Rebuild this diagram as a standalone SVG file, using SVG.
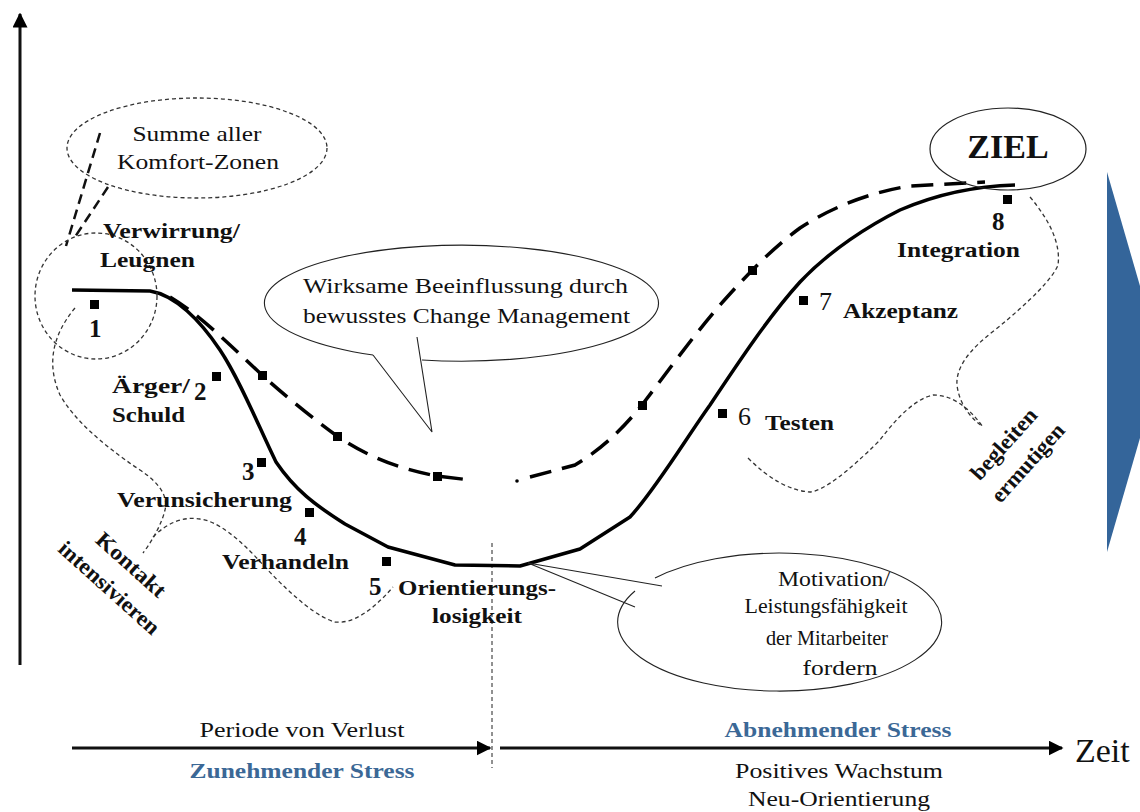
<svg xmlns="http://www.w3.org/2000/svg" width="1140" height="812" viewBox="0 0 1140 812">
<defs>
<style>
text{font-family:"Liberation Serif","Times New Roman",serif;fill:#111}
.b{font-weight:bold;font-size:22px}
.r{font-size:22px}
.n{font-weight:bold;font-size:25px}
.blue{fill:#3b6896;font-weight:bold;font-size:21px}
.c{text-anchor:middle}
.solid{fill:none;stroke:#000;stroke-width:3.5;stroke-linejoin:round}
.dash{fill:none;stroke:#000;stroke-width:3.5;stroke-dasharray:22 11}
.dot{fill:none;stroke:#333;stroke-width:1.3;stroke-dasharray:4 3}
.thin{fill:none;stroke:#222;stroke-width:1.1}
.sq{fill:#000}
</style>
<marker id="ah" viewBox="0 0 10 10" refX="9" refY="5" markerWidth="5" markerHeight="5" orient="auto" markerUnits="strokeWidth">
<path d="M0,0 L10,5 L0,10 z" fill="#000"/>
</marker>
</defs>
<rect width="1140" height="812" fill="#fff"/>

<g id="axes">
<line x1="20" y1="665" x2="20" y2="14" stroke="#111" stroke-width="3" marker-end="url(#ah)"/>
<line x1="72" y1="748" x2="490" y2="748" stroke="#111" stroke-width="3" marker-end="url(#ah)"/>
<line x1="500" y1="748" x2="1062" y2="748" stroke="#111" stroke-width="3" marker-end="url(#ah)"/>
<line x1="492" y1="543" x2="492" y2="768" stroke="#222" stroke-width="1" stroke-dasharray="4 3"/>
<polygon id="bigarrow" points="1107,172 1162,362 1107,552" fill="#34659a"/>
</g>

<g id="connectors">
<path class="solid" d="M72,290 L150,291 C175,295 200,320 220,350 C240,380 258,425 276,462 C295,490 315,505 345,524 L388,547 L455,565 L520,566 L580,549 L630,517 C655,490 685,440 710,405 C740,360 770,315 800,282 C830,250 870,225 900,210 C935,195 975,186 1015,185"/>
<path class="dash" d="M170,297 C200,315 230,345 262,375 C290,400 315,420 337,436 C365,455 395,468 437,476 L470,480"/>
<circle cx="517" cy="481" r="1.8" fill="#000"/>
<path class="dash" d="M530,477 L575,465 C600,450 620,432 642,405 C665,375 690,340 720,305 C745,277 770,250 800,228 C830,208 870,192 910,186 L985,182"/>
<path class="dot" d="M75,308 Q40,350 60,395 Q80,430 140,470 Q170,490 165,510 Q160,530 143,553"/>
<path class="dot" d="M153,537 Q175,515 200,519 Q225,522 265,567 Q310,615 335,622 Q360,625 393,587"/>
<path class="dot" d="M748,458 Q780,490 810,492 Q830,490 880,440 Q910,400 933,395 Q960,395 983,427"/>
<path class="dot" d="M1030,197 Q1062,235 1058,265 Q1050,285 995,330 Q955,360 957,385 Q960,410 983,427"/>
<line x1="100" y1="133" x2="66" y2="246" stroke="#111" stroke-width="2.5" stroke-dasharray="10 6"/>
<line x1="108" y1="187" x2="73" y2="240" stroke="#111" stroke-width="2.5" stroke-dasharray="10 6"/>
</g>

<g id="markers">
<rect class="sq" x="258" y="371" width="9" height="9"/>
<rect class="sq" x="333" y="432" width="9" height="9"/>
<rect class="sq" x="433" y="472" width="9" height="9"/>
<rect class="sq" x="638" y="401" width="9" height="9"/>
<rect class="sq" x="748" y="266" width="9" height="9"/>
<rect class="sq" x="90" y="300" width="9" height="9"/>
<rect class="sq" x="212" y="372" width="9" height="9"/>
<rect class="sq" x="257" y="458" width="9" height="9"/>
<rect class="sq" x="305" y="508" width="9" height="9"/>
<rect class="sq" x="382" y="557" width="9" height="9"/>
<rect class="sq" x="718" y="409" width="9" height="9"/>
<rect class="sq" x="799" y="296" width="9" height="9"/>
<rect class="sq" x="1003" y="195" width="9" height="9"/>
</g>

<g id="comfort">
<ellipse cx="197" cy="148" rx="130" ry="50" fill="none" stroke="#333" stroke-width="1.3" stroke-dasharray="4 3"/>
<text class="r c" x="197" y="141" textLength="129" lengthAdjust="spacingAndGlyphs">Summe aller</text>
<text class="r c" x="198" y="169" textLength="162" lengthAdjust="spacingAndGlyphs">Komfort-Zonen</text>
</g>
<g id="start-circle">
<ellipse cx="96" cy="296" rx="61" ry="63" fill="none" stroke="#333" stroke-width="1.3" stroke-dasharray="4 3"/>
</g>

<g id="bubble-change">
<path class="thin" d="M373,355 A197,58 0 1 1 422,360"/>
<path class="thin" d="M373,355 L432,432 L417,337"/>
<text class="r" x="303" y="293" textLength="325" lengthAdjust="spacingAndGlyphs">Wirksame Beeinflussung durch</text>
<text class="r" x="303" y="323" textLength="327" lengthAdjust="spacingAndGlyphs">bewusstes Change Management</text>
</g>

<g id="bubble-motivation">
<path class="thin" d="M655,578 A162,69 0 1 1 635,591"/>
<path class="thin" d="M662,586 L528,563 L635,607"/>
<text class="r c" x="834" y="586" textLength="112" lengthAdjust="spacingAndGlyphs">Motivation/</text>
<text class="r c" x="826" y="613" textLength="163" lengthAdjust="spacingAndGlyphs">Leistungsfähigkeit</text>
<text class="r c" x="827" y="645" textLength="122" lengthAdjust="spacingAndGlyphs">der Mitarbeiter</text>
<text class="r c" x="840" y="675" textLength="75" lengthAdjust="spacingAndGlyphs">fordern</text>
</g>

<g id="ziel">
<ellipse cx="1008" cy="149" rx="78" ry="41" fill="none" stroke="#222" stroke-width="1.2"/>
<text x="1008" y="158" text-anchor="middle" style="font-weight:bold;font-size:34px">ZIEL</text>
</g>

<g id="phase1"><text class="b" x="103" y="238" textLength="137" lengthAdjust="spacingAndGlyphs">Verwirrung/</text><text class="b" x="100" y="267" textLength="95" lengthAdjust="spacingAndGlyphs">Leugnen</text><text class="n" x="89" y="337">1</text></g>
<g id="phase2"><text class="b" x="112" y="393" textLength="78" lengthAdjust="spacingAndGlyphs">Ärger/</text><text class="b" x="112" y="422" textLength="73" lengthAdjust="spacingAndGlyphs">Schuld</text><text class="n" x="194" y="400">2</text></g>
<g id="phase3"><text class="b" x="117" y="507" textLength="175" lengthAdjust="spacingAndGlyphs">Verunsicherung</text><text class="n" x="242" y="480">3</text></g>
<g id="phase4"><text class="b" x="222" y="569" textLength="127" lengthAdjust="spacingAndGlyphs">Verhandeln</text><text class="n" x="294" y="545">4</text></g>
<g id="phase5"><text class="b" x="398" y="595" textLength="158" lengthAdjust="spacingAndGlyphs">Orientierungs-</text><text class="b" x="432" y="623" textLength="90" lengthAdjust="spacingAndGlyphs">losigkeit</text><text class="n" x="369" y="595">5</text></g>
<g id="phase6"><text class="b" x="765" y="430" textLength="69" lengthAdjust="spacingAndGlyphs">Testen</text><text x="738" y="425" style="font-size:26px">6</text></g>
<g id="phase7"><text class="b" x="843" y="318" textLength="115" lengthAdjust="spacingAndGlyphs">Akzeptanz</text><text x="819" y="310" style="font-size:26px">7</text></g>
<g id="phase8"><text class="b" x="897" y="257" textLength="123" lengthAdjust="spacingAndGlyphs">Integration</text><text class="n" x="992" y="230">8</text></g>

<g id="kontakt">
<text class="b c" transform="translate(131,565) rotate(42)" y="7" textLength="86" lengthAdjust="spacingAndGlyphs">Kontakt</text>
<text class="b c" transform="translate(109,588) rotate(42)" y="7" textLength="128" lengthAdjust="spacingAndGlyphs">intensivieren</text>
</g>
<g id="begleiten">
<text class="b c" transform="translate(1004,444) rotate(-48)" y="7" textLength="88" lengthAdjust="spacingAndGlyphs">begleiten</text>
<text class="b c" transform="translate(1028,463) rotate(-48)" y="7" textLength="98" lengthAdjust="spacingAndGlyphs">ermutigen</text>
</g>

<g id="timeline-labels">
<text class="r c" x="302" y="737" textLength="205" lengthAdjust="spacingAndGlyphs">Periode von Verlust</text>
<text class="blue c" x="302" y="778" textLength="225" lengthAdjust="spacingAndGlyphs">Zunehmender Stress</text>
<text class="blue c" x="838" y="737" textLength="227" lengthAdjust="spacingAndGlyphs">Abnehmender Stress</text>
<text class="r c" x="839" y="778" textLength="208" lengthAdjust="spacingAndGlyphs">Positives Wachstum</text>
<text class="r c" x="839" y="806" textLength="182" lengthAdjust="spacingAndGlyphs">Neu-Orientierung</text>
<text x="1075" y="762" style="font-size:34px">Zeit</text>
</g>
</svg>
